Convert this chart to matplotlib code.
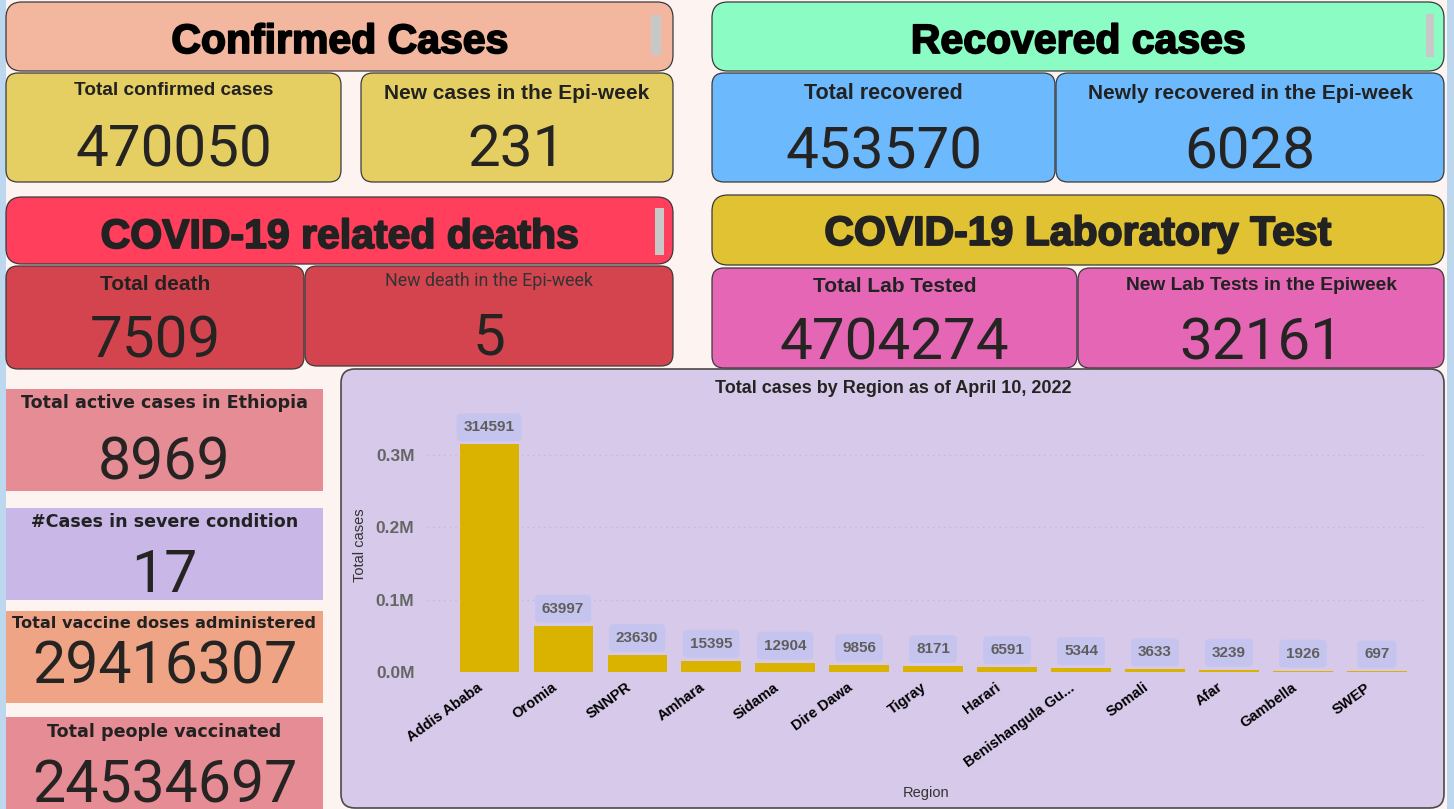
import matplotlib
matplotlib.use('Agg')
import matplotlib.pyplot as plt
import matplotlib.transforms as mtransforms
import matplotlib.patheffects as pe
from matplotlib.patches import FancyBboxPatch, Rectangle
from matplotlib.ticker import FuncFormatter

# ---- data ----
regions = ['Addis Ababa', 'Oromia', 'SNNPR', 'Amhara', 'Sidama', 'Dire Dawa', 'Tigray',
           'Harari', 'Benishangula Gu...', 'Somali', 'Afar', 'Gambella', 'SWEP']
region_cases = [314591, 63997, 23630, 15395, 12904, 9856, 8171, 6591, 5344, 3633, 3239, 1926, 697]

header_titles = ['Confirmed Cases', 'Recovered cases', 'COVID-19 related deaths', 'COVID-19 Laboratory Test']
card_titles = ['Total confirmed cases', 'New cases in the Epi-week',
               'Total recovered', 'Newly recovered in the Epi-week',
               'Total death', 'New death in the Epi-week',
               'Total Lab Tested', 'New Lab Tests in the Epiweek']
card_values = [470050, 231, 453570, 6028, 7509, 5, 4704274, 32161]
side_titles = ['Total active cases in Ethiopia', '#Cases in severe condition',
               'Total vaccine doses administered', 'Total people vaccinated']
side_values = [8969, 17, 29416307, 24534697]
chart_title = 'Total cases by Region as of April 10, 2022'

W, H = 1454, 809
fig = plt.figure(figsize=(W / 100, H / 100), dpi=100)
fig.patch.set_facecolor('#FDF4F2')
bg = fig.add_axes([0, 0, 1, 1])
bg.set_xlim(0, W)
bg.set_ylim(H, 0)
bg.axis('off')

NUMFONT = 'Roboto'
HEADFONT = 'Liberation Sans'


def box(x0, y0, x1, y1, color, r=12, edge='#3a3a3a', lw=0.9):
    bg.add_patch(FancyBboxPatch((x0, y0), x1 - x0, y1 - y0,
                                boxstyle=f'round,pad=0,rounding_size={r}',
                                fc=color, ec=edge, lw=lw))


# side strips
bg.add_patch(Rectangle((0, 0), 6, H, color='#BDD7EE', lw=0))
bg.add_patch(Rectangle((1447, 0), 7, H, color='#BDD7EE', lw=0))

# headers
headers = [((6, 2, 673, 71), '#F3B7A0', '#000000', 42, (651, 15, 661, 55)),
           ((712, 2, 1444, 71), '#8CFCC5', '#000000', 42, (1426, 14, 1434, 57)),
           ((6, 197, 673, 264), '#FF3F5B', '#222222', 237, (655, 208, 664, 255)),
           ((712, 195, 1444, 265), '#E1C232', '#222222', 234, None)]
for (geo, col, tcol, ty, sb), title in zip(headers, header_titles):
    x0, y0, x1, y1 = geo
    box(x0, y0, x1, y1, col, r=16)
    bg.text((x0 + x1) / 2, ty, title, ha='center', va='center',
            fontsize=29.5, fontweight='bold', family=HEADFONT, color=tcol,
            path_effects=[pe.withStroke(linewidth=1.3, foreground=tcol)])
    if sb:
        bg.add_patch(Rectangle((sb[0], sb[1]), sb[2] - sb[0], sb[3] - sb[1], color='#C8C8C8', lw=0))

# cards: geometry, colour, title y, title size, value y
cards = [((6, 73, 341, 182), '#E6CF62', 90, 13.7, 151),
         ((361, 73, 673, 182), '#E6CF62', 93, 15, 151),
         ((712, 73, 1055, 182), '#6DB9FD', 93, 15.5, 153),
         ((1056, 73, 1444, 182), '#6DB9FD', 93, 15, 153),
         ((6, 266, 304, 369), '#D4444F', 284, 15, 342),
         ((305, 266, 673, 366), '#D4444F', 281, 12.9, 339),
         ((712, 268, 1077, 368), '#E466B5', 286, 15, 344),
         ((1078, 268, 1444, 368), '#E466B5', 285, 13.8, 344)]
for (geo, col, ty, ts, vy), title, val in zip(cards, card_titles, card_values):
    x0, y0, x1, y1 = geo
    box(x0, y0, x1, y1, col, r=12)
    cx = (x0 + x1) / 2
    if title.startswith('New death'):
        bg.text(cx, ty, title, ha='center', va='center', fontsize=ts,
                family=NUMFONT, color='#333333')
    else:
        bg.text(cx, ty, title, ha='center', va='center', fontsize=ts,
                fontweight='bold', family=HEADFONT, color='#222222')
    bg.text(cx, vy, str(val), ha='center', va='center',
            fontsize=42, family=NUMFONT, color='#252423')

# side column
side = [((6, 389, 323, 491), '#E68C94', 403, 12.6, 463),
        ((6, 508, 323, 600), '#C8B7E7', 522, 12.6, 575),
        ((6, 611, 323, 703), '#EFA486', 624, 11.6, 667),
        ((6, 717, 323, 815), '#E68C94', 732, 12.6, 786)]
for (geo, col, ty, ts, vy), title, val in zip(side, side_titles, side_values):
    x0, y0, x1, y1 = geo
    bg.add_patch(Rectangle((x0, y0), x1 - x0, y1 - y0, color=col, lw=0))
    cx = (x0 + x1) / 2
    bg.text(cx, ty, title, ha='center', va='center', fontsize=ts,
            fontweight='bold', family='DejaVu Sans', color='#222222')
    bg.text(cx, vy, str(val), ha='center', va='center', fontsize=42.5,
            family=NUMFONT, color='#252423')

# chart panel
box(341, 369, 1444, 808, '#D6C9E9', r=14, edge='#4a4a4a', lw=1.2)
bg.text(893, 388, chart_title, ha='center', va='center', fontsize=13,
        fontweight='bold', family=HEADFONT, color='#252423')

ax = fig.add_axes([427 / W, 1 - 672 / H, (1425 - 427) / W, (672 - 418.8) / H])
ax.set_facecolor('none')
x = list(range(len(regions)))
ax.bar(x, region_cases, width=0.8, color='#DAB300', zorder=3)
ax.set_xlim(-0.84, 12.65)
ax.set_ylim(0, 0.35e6)
ax.set_yticks([0, 1e5, 2e5, 3e5])
ax.yaxis.set_major_formatter(FuncFormatter(lambda v, _: f'{v / 1e6:.1f}M'))
ax.grid(axis='y', color='#C4B8D6', linestyle=(0, (1, 3)), lw=1, zorder=0)
for s in ax.spines.values():
    s.set_visible(False)
ax.tick_params(length=0)
ax.tick_params(axis='y', pad=9, labelsize=12.5, labelcolor='#666666')
for lab in ax.get_yticklabels():
    lab.set_fontweight('bold')
    lab.set_family(HEADFONT)
ax.set_xticks(x)
ax.set_xticklabels(regions, rotation=36, ha='right', rotation_mode='anchor',
                   fontsize=10.5, fontweight='bold', family=HEADFONT)
ax.tick_params(axis='x', pad=6)
shift = mtransforms.ScaledTranslation(-12 / 100, 0, fig.dpi_scale_trans)
for lab in ax.get_xticklabels():
    lab.set_transform(lab.get_transform() + shift)

for xi, v in zip(x, region_cases):
    ax.annotate(str(v), (xi, v), xytext=(0, 17), textcoords='offset pixels',
                ha='center', va='center', fontsize=11, fontweight='bold',
                family=HEADFONT, color='#605E5C',
                bbox=dict(boxstyle='round,pad=0.45,rounding_size=0.3', fc='#C5C4EF', ec='none'))

ax.set_ylabel('Total cases', fontsize=10.5, color='#333333', family=HEADFONT)
ax.yaxis.set_label_coords(-0.060, 0.5)
ax.set_xlabel('Region', fontsize=10.5, color='#333333', family=HEADFONT)
ax.xaxis.set_label_coords(0.5, -0.45)

fig.savefig('out.png', dpi=100, facecolor=fig.get_facecolor())
